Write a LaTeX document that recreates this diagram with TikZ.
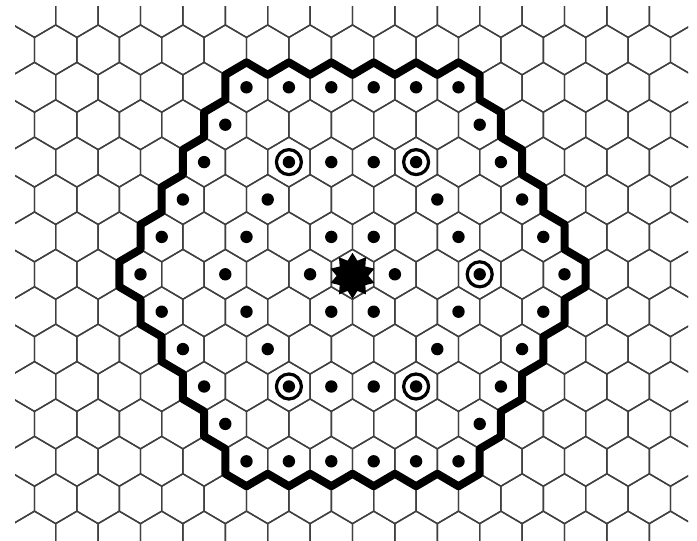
\documentclass[tikz,border=0pt]{standalone}
\usepackage{tikz}
\usetikzlibrary{shapes.geometric}
% lattice of pointy-top cells, pixel units, y pointing down
\newcommand{\gridcx}{352.5}
\newcommand{\gridcy}{274.3}
\newcommand{\halfw}{21.2}
\newcommand{\rowh}{37.4}
\newcommand{\tipa}{24.93}
\newcommand{\tipb}{12.47}
\newcommand{\cellx}[2]{\gridcx+2*\halfw*((#1)+0.5*(#2))}
\newcommand{\celly}[1]{\gridcy+\rowh*(#1)}
% corner #3 (0 = top, clockwise) of cell (#1,#2)
\newcommand{\vx}[3]{\cellx{#1}{#2}+\halfw*sin(60*(#3))/sin(60)}
\newcommand{\vy}[2]{\celly{#1}-\tipa*cos(60*(#2))}

\begin{document}
\begin{tikzpicture}[x=1pt,y=-1pt,
  gridline/.style={black!75,line width=1.4pt,line join=round},
  rim/.style={black,line width=8pt,line join=round},
  dot/.style={fill=black},
  ring/.style={black,line width=3.2pt},
  centrestar/.style={star,star points=10,star point ratio=1.45,fill=black,
    minimum size=46pt,inner sep=0pt},
  hexcell/.pic={\draw[gridline] (0,-\tipa) -- (\halfw,-\tipb) -- (\halfw,\tipb)
    -- (0,\tipa) -- (-\halfw,\tipb) -- (-\halfw,-\tipb) -- cycle;}]
\useasboundingbox (0,0) rectangle (697,541);
\fill[white] (0,0) rectangle (697,541);
% background lattice
\begin{scope}
\clip (15,6) rectangle (688,541);
\foreach \r in {-8,...,8}
  \foreach \c in {-9,...,9}
    \pic at ({\gridcx+2*\halfw*(\c+0.5*abs(mod(\r,2)))},{\celly{\r}}) {hexcell};
\end{scope}
% thick outline round the cells of ring 5
\draw[rim] ({\vx{0}{-5}{5}},{\vy{-5}{5}})
  \foreach \k in {0,...,5} { -- ({\vx{\k}{-5}{5}},{\vy{-5}{5}}) -- ({\vx{\k}{-5}{0}},{\vy{-5}{0}}) }
  \foreach \k in {0,...,5} { -- ({\vx{5}{-5+\k}{0}},{\vy{-5+\k}{0}}) -- ({\vx{5}{-5+\k}{1}},{\vy{-5+\k}{1}}) }
  \foreach \k in {0,...,5} { -- ({\vx{5-\k}{\k}{1}},{\vy{\k}{1}}) -- ({\vx{5-\k}{\k}{2}},{\vy{\k}{2}}) }
  \foreach \k in {0,...,5} { -- ({\vx{-\k}{5}{2}},{\vy{5}{2}}) -- ({\vx{-\k}{5}{3}},{\vy{5}{3}}) }
  \foreach \k in {0,...,5} { -- ({\vx{-5}{5-\k}{3}},{\vy{5-\k}{3}}) -- ({\vx{-5}{5-\k}{4}},{\vy{5-\k}{4}}) }
  \foreach \k in {0,...,5} { -- ({\vx{-5+\k}{-\k}{4}},{\vy{-\k}{4}}) -- ({\vx{-5+\k}{-\k}{5}},{\vy{-\k}{5}}) }
  -- cycle;
% dots on rings 1, 3 and 5
\foreach \q in {-5,...,5}
  \foreach \r in {-5,...,5} {
    \pgfmathtruncatemacro\ringno{max(abs(\q),abs(\r),abs(\q+(\r)))}
    \ifnum\ringno<6 \ifodd\ringno
      \fill[dot] ({\cellx{\q}{\r}},{\celly{\r}}) circle[radius=6.2];
    \fi\fi
  }
% circled corners of ring 3
\foreach \q/\r in {0/-3,3/-3,3/0,0/3,-3/3}
  \draw[ring] ({\cellx{\q}{\r}},{\celly{\r}}) circle[radius=12.5];
\node[centrestar] (centre) at ({\gridcx},{\gridcy+1.5}) {};
\end{tikzpicture}
\end{document}
